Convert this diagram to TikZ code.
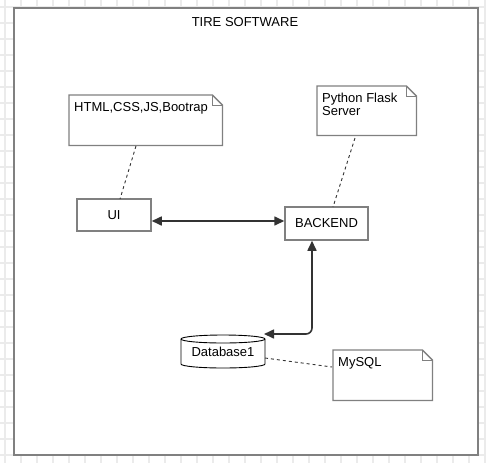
\documentclass[tikz,border=0pt]{standalone}
\usepackage{fontspec}
\setmainfont{Liberation Sans}
\usetikzlibrary{arrows.meta}
\definecolor{boxgray}{HTML}{808080}
\definecolor{gridgray}{HTML}{EBEBEB}
\definecolor{linedark}{HTML}{333333}
\begin{document}
\begin{tikzpicture}[x=1pt,y=-1pt,
  txt/.style={font=\fontsize{13}{14}\selectfont, inner sep=0pt, text=black},
  box/.style={draw=boxgray, line width=1.5pt, fill=white, inner sep=0pt, txt},
  noteshape/.style={draw=none, inner sep=0pt, anchor=north west},
  noteline/.style={draw=boxgray, line width=1.3pt, fill=white, line join=miter},
  conn/.style={draw=linedark, line width=1.6pt, {Triangle[length=10pt,width=9pt]}-{Triangle[length=10pt,width=9pt]}, rounded corners=6pt},
  dotted link/.style={draw=linedark, line width=0.9pt, dash pattern=on 3pt off 3pt}
]
\useasboundingbox (0,0) rectangle (486,463);
% grid
\foreach \gx in {5,21,...,485} \draw[gridgray, line width=1.2pt] (\gx,0) -- (\gx,463);
\foreach \gy in {7,23,...,455} \draw[gridgray, line width=1.2pt] (0,\gy) -- (486,\gy);
% frame
\node[draw=boxgray, line width=2pt, fill=white, minimum width=464pt, minimum height=447pt, anchor=north west, inner sep=0pt] (frame) at (13,7) {};
\node[txt] (title) at (245,22) {TIRE SOFTWARE};

% notes
\newcommand{\drawnote}[1]{%
  \path[noteline] (#1.north west) -- ([xshift=-10pt]#1.north east) -- ([yshift=-10pt]#1.north east) -- (#1.south east) -- (#1.south west) -- cycle;
  \draw[boxgray, line width=1pt] ([xshift=-10pt]#1.north east) -- ([xshift=-10pt,yshift=-10pt]#1.north east) -- ([yshift=-10pt]#1.north east);}

\node[noteshape, minimum width=153pt, minimum height=50pt] (html) at (69,95) {};
\drawnote{html}
\node[txt, anchor=base west] (htmlt) at (74,111) {HTML,CSS,JS,Bootrap};

\node[noteshape, minimum width=99pt, minimum height=49pt] (py) at (317,86) {};
\drawnote{py}
\node[txt, anchor=base west] (pyt1) at (322,102) {Python Flask};
\node[txt, anchor=base west] (pyt2) at (322,115) {Server};

\node[noteshape, minimum width=99pt, minimum height=50pt] (mysql) at (333,350) {};
\drawnote{mysql}
\node[txt, anchor=base west] (mysqlt) at (338,366) {MySQL};

% boxes
\node[box, minimum width=74pt, minimum height=32pt] (ui) at (114,215) {UI};
\node[box, minimum width=83pt, minimum height=33pt] (be) at (326.5,223.5) {BACKEND};

% database cylinder
\node[draw=none, minimum width=84pt, minimum height=33pt, inner sep=0pt] (db) at (223,351.5) {};
\draw[black, line width=0.9pt, fill=white]
  (181,339) -- (181,364) arc[start angle=180, end angle=360, x radius=42pt, y radius=4pt] -- (265,339)
  arc[start angle=0, end angle=180, x radius=42pt, y radius=4pt] -- cycle;
\draw[black, line width=0.9pt] (181,339) arc[start angle=180, end angle=360, x radius=42pt, y radius=4pt];
\node[txt] (dbt) at (223,352) {Database1};

% connectors
\draw[conn] ([yshift=-6pt]ui.east) -- ([yshift=-6pt]ui.east -| be.west);
\coordinate (dbin) at (264,334);
\draw[conn] (dbin) -| (be.south -| 312,0);
% dashed links
\coordinate (h1) at (136,146);
\coordinate (h2) at (120,199);
\draw[dotted link] (h1) -- (h2);
\coordinate (p1) at (355,138);
\coordinate (p2) at (333,207);
\draw[dotted link] (p1) -- (p2);
\coordinate (d1) at (265,358);
\coordinate (d2) at (332,367);
\draw[dotted link] (d1) -- (d2);
\end{tikzpicture}
\end{document}
